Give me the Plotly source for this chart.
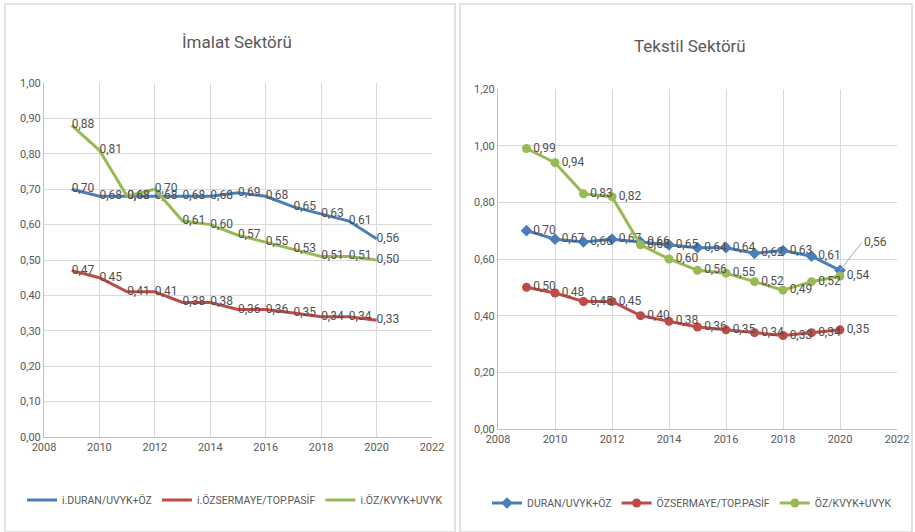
import plotly.graph_objects as go

years = [2009, 2010, 2011, 2012, 2013, 2014, 2015, 2016, 2017, 2018, 2019, 2020]

# İmalat Sektörü
imalat_duran = [0.70, 0.68, 0.68, 0.68, 0.68, 0.68, 0.69, 0.68, 0.65, 0.63, 0.61, 0.56]
imalat_ozsermaye = [0.47, 0.45, 0.41, 0.41, 0.38, 0.38, 0.36, 0.36, 0.35, 0.34, 0.34, 0.33]
imalat_oz = [0.88, 0.81, 0.68, 0.70, 0.61, 0.60, 0.57, 0.55, 0.53, 0.51, 0.51, 0.50]

# Tekstil Sektörü
tekstil_duran = [0.70, 0.67, 0.66, 0.67, 0.66, 0.65, 0.64, 0.64, 0.62, 0.63, 0.61, 0.56]
tekstil_ozsermaye = [0.50, 0.48, 0.45, 0.45, 0.40, 0.38, 0.36, 0.35, 0.34, 0.33, 0.34, 0.35]
tekstil_oz = [0.99, 0.94, 0.83, 0.82, 0.65, 0.60, 0.56, 0.55, 0.52, 0.49, 0.52, 0.54]

names_left = ["i.DURAN/UVYK+ÖZ", "i.ÖZSERMAYE/TOP.PASİF", "i.ÖZ/KVYK+UVYK"]
names_right = ["DURAN/UVYK+ÖZ", "ÖZSERMAYE/TOP.PASİF", "ÖZ/KVYK+UVYK"]

BLUE = "#4a7ebb"
RED = "#be4b48"
GREEN = "#98b954"
colors = [BLUE, RED, GREEN]

FONT = "Roboto, Liberation Sans, sans-serif"
TXT = "#595959"
LBL = "#505050"


def fmt(v):
    return f"{v:.2f}".replace(".", ",")


fig = go.Figure()

for name, vals, col in zip(names_left, [imalat_duran, imalat_ozsermaye, imalat_oz], colors):
    fig.add_trace(go.Scatter(
        x=years, y=vals, name=name, mode="lines+text",
        line=dict(color=col, width=3),
        text=[fmt(v) for v in vals], textposition="middle right",
        textfont=dict(family=FONT, size=12, color=LBL),
        xaxis="x", yaxis="y", legend="legend", cliponaxis=False,
    ))

right_series = [tekstil_duran, tekstil_ozsermaye, tekstil_oz]
symbols = ["diamond", "circle", "circle"]
for i, (name, vals, col, sym) in enumerate(zip(names_right, right_series, colors, symbols)):
    texts = [fmt(v) for v in vals]
    if i == 0:
        texts[-1] = ""
    fig.add_trace(go.Scatter(
        x=years, y=vals, name=name, mode="lines+markers+text",
        line=dict(color=col, width=3),
        marker=dict(color=col, size=9, symbol=sym),
        text=texts, textposition="middle right",
        textfont=dict(family=FONT, size=12, color=LBL),
        xaxis="x2", yaxis="y2", legend="legend2", cliponaxis=False,
    ))

# leader-line label for last Tekstil DURAN point
fig.add_annotation(
    x=years[-1], y=tekstil_duran[-1], xref="x2", yref="y2",
    text=fmt(tekstil_duran[-1]), showarrow=True, arrowhead=0, arrowwidth=1,
    arrowcolor="#a6a6a6", ax=22, ay=-28, xanchor="left",
    font=dict(family=FONT, size=12, color=LBL),
)

W, H = 915, 532
axis_common = dict(
    showgrid=True, gridcolor="#d9d9d9", gridwidth=1, zeroline=False,
    tickfont=dict(family=FONT, size=11, color=TXT), ticks="",
    showline=True, linecolor="#bfbfbf", linewidth=1,
)

fig.update_layout(
    width=W, height=H, margin=dict(l=0, r=0, t=0, b=0, autoexpand=False),
    paper_bgcolor="white", plot_bgcolor="white",
    separators=",.",
    showlegend=True,
    xaxis=dict(domain=[44 / W, 432 / W], range=[2008, 2022], dtick=2, anchor="y",
               **axis_common),
    yaxis=dict(domain=[1 - 437 / H, 1 - 83 / H], range=[0, 1.0], dtick=0.1,
               tickformat=".2f", anchor="x", **axis_common),
    xaxis2=dict(domain=[498 / W, 897 / W], range=[2008, 2022], dtick=2, anchor="y2",
                **axis_common),
    yaxis2=dict(domain=[1 - 429 / H, 1 - 89 / H], range=[0, 1.2], dtick=0.2,
                tickformat=".2f", anchor="x2", **axis_common),
    legend=dict(orientation="h", x=235 / W, xanchor="center", y=1 - 500 / H, yanchor="middle",
                font=dict(family=FONT, size=10.5, color=TXT), bgcolor="rgba(0,0,0,0)",
                itemwidth=30),
    legend2=dict(orientation="h", x=692 / W, xanchor="center", y=1 - 503 / H, yanchor="middle",
                 font=dict(family=FONT, size=10.5, color=TXT), bgcolor="rgba(0,0,0,0)",
                 itemwidth=30),
    annotations=list(fig.layout.annotations) + [
        dict(text="İmalat Sektörü", x=237 / W, y=1 - 42 / H, xref="paper", yref="paper",
             xanchor="center", yanchor="middle",
             showarrow=False, font=dict(family=FONT, size=17, color=TXT)),
        dict(text="Tekstil Sektörü", x=690 / W, y=1 - 46 / H, xref="paper", yref="paper",
             xanchor="center", yanchor="middle",
             showarrow=False, font=dict(family=FONT, size=17, color=TXT)),
    ],
    shapes=[
        dict(type="rect", xref="paper", yref="paper", x0=5 / W, x1=455 / W, y0=0, y1=1 - 4 / H,
             line=dict(color="#d9d9d9", width=1.5)),
        dict(type="rect", xref="paper", yref="paper", x0=460 / W, x1=912 / W, y0=0, y1=1 - 4 / H,
             line=dict(color="#d9d9d9", width=1.5)),
    ],
)

fig.write_html(
    "out.html",
    config={"displayModeBar": False},
    post_script="document.body.style.margin='0';document.body.style.padding='0';"
                "document.documentElement.style.overflow='hidden';",
)
